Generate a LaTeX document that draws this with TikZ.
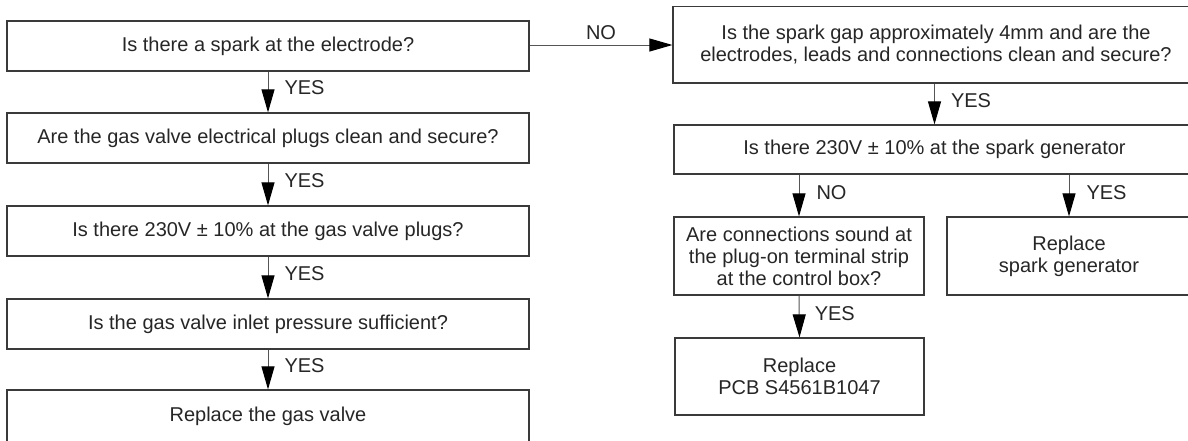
\documentclass[tikz,border=0pt]{standalone}
\usepackage{fontspec}
\setmainfont{Liberation Sans}
\usetikzlibrary{arrows.meta}
\definecolor{txt}{HTML}{262626}
\definecolor{boxc}{HTML}{3A3A3A}
\definecolor{linec}{HTML}{555555}
\begin{document}
\begin{tikzpicture}[x=1pt,y=-1pt,
  box/.style={draw=boxc, line width=1.2pt, text=txt, align=center, inner sep=0pt,
    font=\fontsize{20}{22}\selectfont},
  arr/.style={draw=linec, line width=1pt, -{Triangle[length=23pt,width=13pt,fill=black,color=black]}},
  lab/.style={text=txt, inner sep=0pt, anchor=west, font=\fontsize{20}{22}\selectfont}
]
\useasboundingbox (0,0) rectangle (1188,440);
% left column
\node[box, minimum width=522pt, minimum height=50pt] (L1) at (268,46) {Is there a spark at the electrode?};
\node[box, minimum width=522pt, minimum height=50pt] (L2) at (268,138) {Are the gas valve electrical plugs clean and secure?};
\node[box, minimum width=522pt, minimum height=50pt] (L3) at (268,231) {Is there 230V ± 10\% at the gas valve plugs?};
\node[box, minimum width=522pt, minimum height=50pt] (L4) at (268,324) {Is the gas valve inlet pressure sufficient?};
\node[box, minimum width=522pt, minimum height=53pt] (L5) at (268,416.5) {Replace the gas valve};
% right column
\node[box, minimum width=526pt, minimum height=76.5pt] (R1) at (936,44.75) {Is the spark gap approximately 4mm and are the\\electrodes, leads and connections clean and secure?};
\node[box, minimum width=521pt, minimum height=49pt] (R2) at (934.5,149.5) {Is there 230V ± 10\% at the spark generator};
\node[box, minimum width=250pt, minimum height=78pt] (C) at (799,256) {Are connections sound at\\the plug-on terminal strip\\at the control box?};
\node[box, minimum width=244pt, minimum height=78pt] (S) at (1069,256) {Replace\\spark generator};
\node[box, minimum width=249pt, minimum height=77pt] (P) at (799.5,376.5) {Replace\\PCB S4561B1047};
% connectors
\draw[arr] (L1.south) -- node[lab, xshift=16pt, yshift=4pt] {YES} (L2.north);
\draw[arr] (L2.south) -- node[lab, xshift=16pt, yshift=4pt] {YES} (L3.north);
\draw[arr] (L3.south) -- node[lab, xshift=16pt, yshift=4pt] {YES} (L4.north);
\draw[arr] (L4.south) -- node[lab, xshift=16pt, yshift=4pt] {YES} (L5.north);
\draw[arr] (L1.east |- 0,45) -- node[text=txt, inner sep=0pt, font=\fontsize{20}{22}\selectfont, yshift=12pt] {NO} (R1.west |- 0,45);
\draw[arr] (R1.south -| R2.north) -- node[lab, xshift=16pt, yshift=3pt] {YES} (R2.north);
\draw[arr] (R2.south -| C.north) -- node[lab, xshift=17pt, yshift=3pt] {NO} (C.north);
\draw[arr] (R2.south -| S.north) -- node[lab, xshift=17pt, yshift=3pt] {YES} (S.north);
\draw[arr] (C.south) -- node[lab, xshift=15pt, yshift=3pt] {YES} (P.north);
\end{tikzpicture}
\end{document}
